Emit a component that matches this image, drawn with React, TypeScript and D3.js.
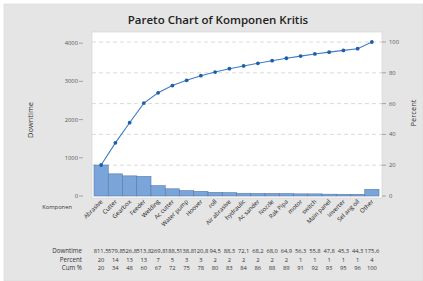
import { scaleBand, scaleLinear, line } from "d3";

// Komponen kritis (sorted by downtime, "Other" last)
const categories = [
  "Abrasive", "Cutter", "Gearbox", "Feeder", "Welding", "Ac cutter", "Water pump",
  "Hoover", "roll", "Air abrasive", "hydraulic", "Ac sander", "Nozzle", "Rak Pipa",
  "motor", "switch", "Main panel", "Inverter", "Sel ang oil", "Other",
];
const downtime = [
  811.5, 579.8, 526.8, 513.8, 269.8, 188.5, 138.8, 120.8, 94.5, 88.3,
  72.1, 68.2, 68.0, 64.9, 56.3, 55.8, 47.8, 45.3, 44.3, 175.6,
];
const percentRow = [20, 14, 13, 13, 7, 5, 3, 3, 2, 2, 2, 2, 2, 2, 1, 1, 1, 1, 1, 4];
const cumRow = [20, 34, 48, 60, 67, 72, 75, 78, 80, 83, 84, 86, 88, 89, 91, 92, 93, 95, 96, 100];
const leftTicks = [0, 1000, 2000, 3000, 4000];
const rightTicks = [0, 20, 40, 60, 80, 100];

const W = 423;
const H = 281;
const plot = { left: 92, right: 382, top: 32, bottom: 198 };

const App = () => {
  const total = downtime.reduce((a, b) => a + b, 0);
  let run = 0;
  const cumPct = downtime.map((d) => {
    run += d;
    return (run / total) * 100;
  });

  const x = scaleBand<string>().domain(categories).range([94, 379]).padding(0);
  const yL = scaleLinear().domain([0, total]).range([196, 42]);
  const yR = scaleLinear().domain([0, 100]).range([196, 42]);
  const cx = (c: string) => (x(c) ?? 0) + x.bandwidth() / 2;

  const path = line<number>()
    .x((_, i) => cx(categories[i]))
    .y((d) => yR(d))(cumPct);

  const font = "'Open Sans', 'Noto Sans', sans-serif";
  const fmt = (v: number) => v.toFixed(1).replace(".", ",");

  return (
    <svg width={W} height={H} style={{ position: "absolute", left: 0, top: 0 }} fontFamily={font}>
      <rect x={0} y={0} width={W} height={H} fill="#ffffff" />
      <rect x={4} y={4} width={W - 4} height={H - 4} fill="#e5e5e5" stroke="#d6d6d6" strokeWidth={0.6} />
      <text x={218} y={24} textAnchor="middle" fontSize={11.5} fontWeight={600} fill="#222">
        Pareto Chart of Komponen Kritis
      </text>

      <rect x={plot.left} y={plot.top} width={plot.right - plot.left} height={plot.bottom - plot.top}
        fill="#ffffff" stroke="#cfcfcf" strokeWidth={0.6} />

      {/* gridlines */}
      {rightTicks.filter((t) => t > 0).map((t) => (
        <line key={`g-${t}`} x1={plot.left} x2={plot.right} y1={yR(t)} y2={yR(t)}
          stroke="#cccccc" strokeWidth={0.7} strokeDasharray="4,3" />
      ))}

      {/* bars */}
      {categories.map((c, i) => (
        <rect key={`bar-${c}`} x={x(c)} y={yL(downtime[i])} width={x.bandwidth()}
          height={196 - yL(downtime[i])} fill="#7aa5db" stroke="#5a7aa3" strokeWidth={0.6} />
      ))}

      {/* cumulative line */}
      <path d={path ?? ""} fill="none" stroke="#3f7cc4" strokeWidth={1.1} />
      {cumPct.map((p, i) => (
        <circle key={`pt-${i}`} cx={cx(categories[i])} cy={yR(p)} r={1.9} fill="#1f5ea8" />
      ))}

      {/* left axis */}
      {leftTicks.map((t) => (
        <g key={`l-${t}`}>
          <line x1={79} x2={83} y1={yL(t)} y2={yL(t)} stroke="#777" strokeWidth={0.6} />
          <text x={78} y={yL(t) + 2} textAnchor="end" fontSize={5.8} fill="#555">{t}</text>
        </g>
      ))}
      <text transform="translate(33,120) rotate(-90)" textAnchor="middle" fontSize={7.5} fill="#333">Downtime</text>

      {/* right axis */}
      {rightTicks.map((t) => (
        <g key={`r-${t}`}>
          <line x1={382} x2={386} y1={yR(t)} y2={yR(t)} stroke="#777" strokeWidth={0.6} />
          <text x={389} y={yR(t) + 2} fontSize={5.8} fill="#555">{t}</text>
        </g>
      ))}
      <text transform="translate(416,113) rotate(-90)" textAnchor="middle" fontSize={7.5} fill="#333">Percent</text>

      {/* category labels */}
      <text x={72} y={209} textAnchor="end" fontSize={5.8} fill="#333">Komponen</text>
      {categories.map((c) => (
        <text key={`xl-${c}`} transform={`translate(${cx(c) + 2},${202}) rotate(-45)`}
          textAnchor="end" fontSize={6} fill="#222">{c}</text>
      ))}

      {/* table */}
      <text x={82} y={253} textAnchor="end" fontSize={6.2} fill="#333">Downtime</text>
      <text x={82} y={262} textAnchor="end" fontSize={6.2} fill="#333">Percent</text>
      <text x={82} y={270} textAnchor="end" fontSize={6.2} fill="#333">Cum %</text>
      {categories.map((c, i) => (
        <g key={`row-${c}`} fontSize={5.8} fill="#333" textAnchor="middle">
          <text x={cx(c)} y={253}>{fmt(downtime[i])}</text>
          <text x={cx(c)} y={262}>{percentRow[i]}</text>
          <text x={cx(c)} y={270}>{cumRow[i]}</text>
        </g>
      ))}
    </svg>
  );
};

export default App;
